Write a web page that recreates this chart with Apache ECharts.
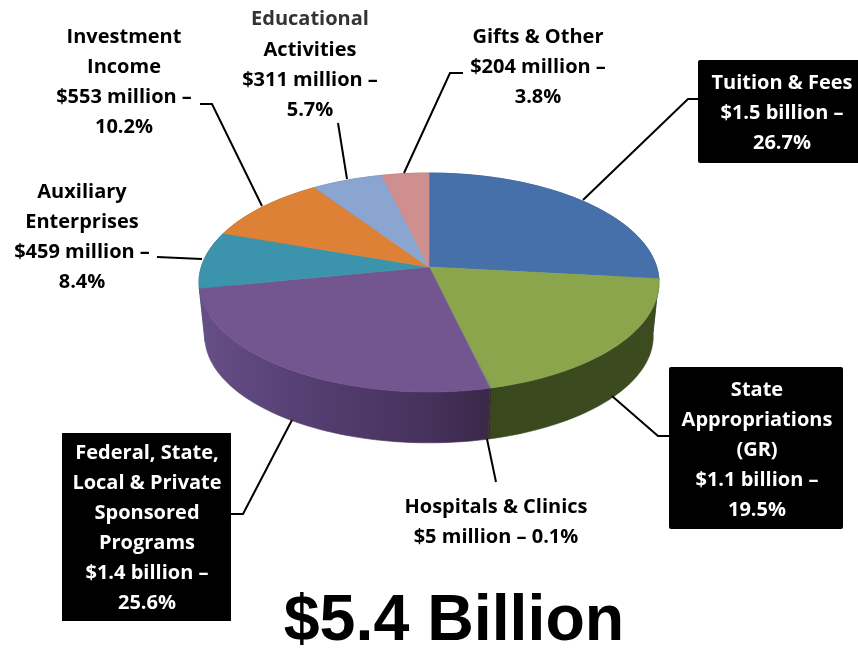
<!DOCTYPE html>
<html>
<head>
<meta charset="utf-8">
<style>html,body{margin:0;padding:0;background:#fff}#c{width:858px;height:650px}</style>
<script src="https://cdn.jsdelivr.net/npm/echarts@6/dist/echarts.min.js"></script>
</head>
<body>
<div id="c"></div>
<script>
// ---- data ----
const categories = ['Tuition & Fees','State Appropriations (GR)','Hospitals & Clinics','Federal, State, Local & Private Sponsored Programs','Auxiliary Enterprises','Investment Income','Educational Activities','Gifts & Other'];
const amounts = ['$1.5 billion','$1.1 billion','$5 million','$1.4 billion','$459 million','$553 million','$311 million','$204 million'];
const shares = [26.7, 19.5, 0.1, 25.6, 8.4, 10.2, 5.7, 3.8];
const topColors = ['#4670a9','#8aa54b','#7f8a6a','#73558f','#3c93ac','#dc8135','#8aa5d0','#cf8f8e'];
const sideColors = ['#2f4c72','#3b4a1f','#3a3020','#4c3a68','#276272','#94561f','#5c6e8b','#8a5f5f'];
const title = '$5.4 Billion';

// ---- 3D projection of the pie disc ----
const TOP = {cx: 429, cy: 267, R: 227.7, H: 107.3, k: 0.1416};
const BOT = {cx: 429, cy: 321, R: 222, H: 104.6, k: 0.1416};
function project(d, deg) {
  const a = deg * Math.PI / 180, u = Math.sin(a), v = Math.cos(a), w = 1 + d.k * v;
  return [d.cx + d.R * u / w, d.cy - d.H * v / w];
}
const total = shares.reduce((a, b) => a + b, 0);
const starts = [];
shares.reduce((acc, s, i) => { starts[i] = acc / total * 360; return acc + s; }, 0);
function arc(d, from, to) {
  const n = Math.max(2, Math.ceil(Math.abs(to - from) / 1.5)), pts = [];
  for (let i = 0; i <= n; i++) pts.push(project(d, from + (to - from) * i / n));
  return pts;
}
function span(i, v) { return [starts[i], starts[i] + v / total * 360]; }

function renderSide(params, api) {
  const i = params.dataIndex, [a, b] = span(i, api.value(0));
  const mid = (a + b) / 2 * Math.PI / 180;
  let fill = sideColors[i];
  if (i === 3) fill = {type:'linear', global:true, x:200, y:0, x2:490, y2:0, colorStops:[
    {offset:0,color:'#654f86'},{offset:0.35,color:'#563f72'},{offset:0.75,color:'#47335e'},{offset:1,color:'#3a2849'}]};
  if (i === 1) fill = {type:'linear', global:true, x:490, y:0, x2:660, y2:0, colorStops:[
    {offset:0,color:'#3a481d'},{offset:1,color:'#3d4b20'}]};
  return {
    type: 'polygon', z2: Math.round(-Math.cos(mid) * 100),
    shape: {points: arc(TOP, a, b).concat(arc(BOT, b, a))},
    style: {fill: fill, stroke: fill, lineWidth: 0.6}
  };
}
function renderTop(params, api) {
  const i = params.dataIndex, [a, b] = span(i, api.value(0));
  return {
    type: 'polygon',
    shape: {points: [[TOP.cx, TOP.cy]].concat(arc(TOP, a, b))},
    style: {fill: topColors[i], stroke: topColors[i], lineWidth: 0.6}
  };
}

// ---- annotation layout ----
const pitch = 30;
const labels = [
  {i:5, x:124, y:37, lines:['Investment','Income','$553 million –','10.2%']},
  {i:6, x:310, y:50, lines:['Activities','$311 million –','5.7%'], extra:{text:'Educational', y:19}},
  {i:7, x:538, y:37, lines:['Gifts & Other','$204 million –','3.8%']},
  {i:0, x:782, y:83, lines:['Tuition & Fees','$1.5 billion –','26.7%'], box:[698,60,170,103,2]},
  {i:4, x:82, y:192, lines:['Auxiliary','Enterprises','$459 million –','8.4%']},
  {i:3, x:147, y:453, lines:['Federal, State,','Local & Private','Sponsored','Programs','$1.4 billion –','25.6%'], box:[62,433,169,188,0]},
  {i:1, x:757, y:390, lines:['State','Appropriations','(GR)','$1.1 billion –','19.5%'], box:[669,367,174,162,2]},
  {i:2, x:496, y:507, lines:['Hospitals & Clinics','$5 million – 0.1%']}
];
const leaders = [
  [[200,104],[212,104],[262,206]],
  [[338,123],[347,179]],
  [[463,73],[450,73],[404,173]],
  [[698,99],[688,99],[583,200]],
  [[157,257],[202,259]],
  [[669,436],[658,436],[612,396]],
  [[487,439],[496,482]],
  [[231,514],[243,514],[292,420]]
];
const font = {fontFamily:'Open Sans', fontWeight:'bold', fontSize:20, align:'center', verticalAlign:'middle'};
const elements = [];
leaders.forEach(p => elements.push({type:'polyline', z:5, shape:{points:p}, style:{stroke:'#000', lineWidth:2, fill:null}}));
labels.forEach(l => {
  if (l.box) elements.push({type:'rect', z:6, shape:{x:l.box[0],y:l.box[1],width:l.box[2],height:l.box[3],r:l.box[4]}, style:{fill:'#000'}});
  l.lines.forEach((t, n) => elements.push({type:'text', z:7, style:Object.assign({}, font, {text:t, x:l.x, y:l.y + n * pitch, fill:l.box ? '#fff' : '#000'})}));
  if (l.extra) elements.push({type:'text', z:7, style:Object.assign({}, font, {text:l.extra.text, x:l.x, y:l.extra.y, fill:'#333'})});
});
elements.push({type:'text', z:7, style:{text:title, x:454, y:622, fill:'#000', fontFamily:'Liberation Sans', fontWeight:'bold', fontSize:64.5, align:'center', verticalAlign:'middle'}});

const chart = echarts.init(document.getElementById('c'), null, {width:858, height:650});
chart.setOption({
  backgroundColor:'#fff',
  animation:false,
  tooltip:{show:false},
  graphic:{elements:elements},
  series:[
    {type:'custom', name:'side', coordinateSystem:'none', z:1, silent:true, renderItem:renderSide, data:shares.map((v,i)=>({name:categories[i], value:v}))},
    {type:'custom', name:'top', coordinateSystem:'none', z:2, silent:true, renderItem:renderTop, data:shares.map((v,i)=>({name:categories[i], value:v}))}
  ]
});
</script>
</body>
</html>
